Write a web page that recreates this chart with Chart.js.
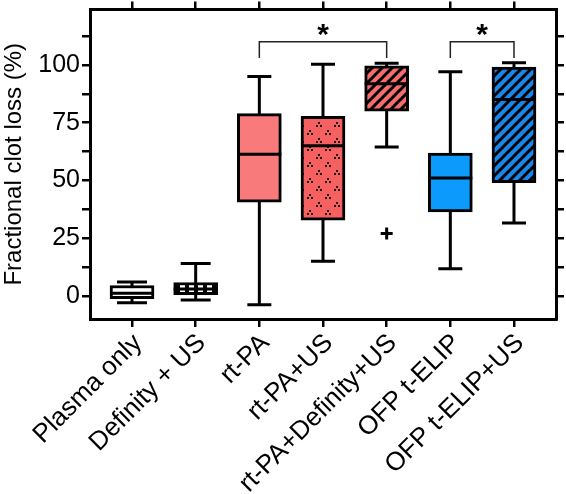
<!DOCTYPE html>
<html>
<head>
<meta charset="utf-8">
<script src="https://cdn.jsdelivr.net/npm/chart.js@4.4.0/dist/chart.umd.min.js"></script>
<style>
  body { margin: 0; background: #fff; }
  #wrap { width: 566px; height: 494px; }
</style>
</head>
<body>
<div id="wrap"><canvas id="clotChart"></canvas></div>
<script>
'use strict';

// ********** data **********
const groups = ['Plasma only', 'Definity + US', 'rt-PA', 'rt-PA+US', 'rt-PA+Definity+US', 'OFP t-ELIP', 'OFP t-ELIP+US'];
const whiskerLow   = [-3, -1.8, -3.8, 15, 64.5, 11.8, 31.6];
const quartileLow  = [-1.2, 0.5, 40.6, 32.8, 80, 36.4, 49];
const medians      = [1.2, 3, 61.3, 65, 91.8, 51, 85];
const quartileHigh = [4.5, 5.8, 78.9, 77.8, 99.6, 61.8, 99.1];
const whiskerHigh  = [6, 14, 95, 100.3, 100.7, 97, 100.9];
const outliers = [{x: 4, y: 27}];
const significant = [[2, 4], [5, 6]];
const yLabelTicks = [0, 25, 50, 75, 100];

const FONT = "'Liberation Sans', Arial, Helvetica, sans-serif";

// ********** fill patterns **********
function makeTile(w, h, draw) {
  const c = document.createElement('canvas');
  c.width = w; c.height = h;
  draw(c.getContext('2d'));
  return c.getContext('2d').createPattern(c, 'repeat');
}

function hatch(base) {
  return makeTile(10, 10, g => {
    g.fillStyle = base;
    g.fillRect(0, 0, 10, 10);
    g.strokeStyle = '#000';
    g.lineWidth = 3;
    g.beginPath();
    g.moveTo(-5, 15); g.lineTo(15, -5);
    g.moveTo(-5, 5); g.lineTo(5, -5);
    g.moveTo(5, 15); g.lineTo(15, 5);
    g.stroke();
  });
}

function carets(base) {
  return makeTile(18, 16, g => {
    g.fillStyle = base;
    g.fillRect(0, 0, 18, 16);
    g.fillStyle = '#1a0404';
    [[4, 4], [13, 12]].forEach(([cx, cy]) => {
      g.fillRect(cx - 1, cy - 2, 2, 2);
      g.fillRect(cx - 3, cy + 1, 2, 2);
      g.fillRect(cx + 1, cy + 1, 2, 2);
    });
  });
}

function dashes() {
  return makeTile(9, 4, g => {
    g.fillStyle = '#fff';
    g.fillRect(0, 0, 9, 4);
    g.fillStyle = '#000';
    g.fillRect(5, 0, 4, 4);
  });
}

const boxFills = [
  '#ffffff',
  dashes(),
  '#f87a7a',
  carets('#f76060'),
  hatch('#f56c6c'),
  '#0c9bfc',
  hatch('#1a86ea')
];

// ********** whiskers, medians, brackets **********
const boxParts = {
  id: 'boxParts',
  beforeDatasetsDraw(chart) {
    const {ctx, scales: {x, y}} = chart;
    ctx.save();
    ctx.strokeStyle = '#000';
    ctx.lineWidth = 3;
    groups.forEach((g, i) => {
      const px = x.getPixelForValue(i);
      ctx.beginPath();
      ctx.moveTo(px, y.getPixelForValue(whiskerLow[i]));
      ctx.lineTo(px, y.getPixelForValue(whiskerHigh[i]));
      ctx.stroke();
    });
    ctx.restore();
  },
  afterDatasetsDraw(chart) {
    const {ctx, scales: {x, y}} = chart;
    const bars = chart.getDatasetMeta(0).data;
    ctx.save();
    ctx.strokeStyle = '#000';
    ctx.lineWidth = 3;
    groups.forEach((g, i) => {
      const px = x.getPixelForValue(i);
      const half = bars[i].width / 2;
      const cap = i < 2 ? 15 : 12;
      ctx.beginPath();
      [whiskerLow[i], whiskerHigh[i]].forEach(v => {
        const py = y.getPixelForValue(v);
        ctx.moveTo(px - cap, py);
        ctx.lineTo(px + cap, py);
      });
      const pm = y.getPixelForValue(medians[i]);
      ctx.moveTo(px - half, pm);
      ctx.lineTo(px + half, pm);
      ctx.stroke();
    });

    // significance brackets
    ctx.lineWidth = 1.5;
    ctx.strokeStyle = '#222';
    ctx.fillStyle = '#000';
    ctx.font = 'bold 30px ' + FONT;
    ctx.textAlign = 'center';
    ctx.textBaseline = 'alphabetic';
    significant.forEach(([a, b]) => {
      const xa = x.getPixelForValue(a);
      const xb = x.getPixelForValue(b);
      const top = y.getPixelForValue(110);
      const leg = y.getPixelForValue(103);
      ctx.beginPath();
      ctx.moveTo(xa, leg);
      ctx.lineTo(xa, top);
      ctx.lineTo(xb, top);
      ctx.lineTo(xb, leg);
      ctx.stroke();
      ctx.fillText('*', (xa + xb) / 2, top + 2);
    });
    ctx.restore();
  }
};

// ********** chart **********
const xMin = -0.66, xMax = 6.66;
const yMin = -10, yMax = 124;
const frame = {color: '#000', width: 3};
const tickMarks = {drawOnChartArea: false, color: '#000', lineWidth: 2.5, tickLength: 8, offset: false};

function fixSize(prop, size) {
  return s => {
    s[prop] = size;
    s.paddingTop = s.paddingBottom = s.paddingLeft = s.paddingRight = 0;
  };
}

new Chart(document.getElementById('clotChart'), {
  type: 'bar',
  data: {
    datasets: [{
      data: groups.map((g, i) => ({x: i, y: [quartileLow[i], quartileHigh[i]]})),
      backgroundColor: boxFills,
      borderColor: '#000',
      borderWidth: 3,
      borderSkipped: false,
      barThickness: 44
    }, {
      type: 'scatter',
      data: outliers,
      pointStyle: 'cross',
      radius: 6,
      borderWidth: 3,
      borderColor: '#000'
    }]
  },
  options: {
    animation: false,
    responsive: true,
    maintainAspectRatio: false,
    layout: {padding: 0},
    plugins: {
      legend: {display: false},
      tooltip: {enabled: false}
    },
    scales: {
      x: {
        type: 'linear',
        position: 'bottom',
        min: xMin,
        max: xMax,
        offset: false,
        grid: tickMarks,
        border: frame,
        ticks: {
          stepSize: 1,
          includeBounds: false,
          autoSkip: false,
          minRotation: 45,
          maxRotation: 45,
          padding: 1,
          labelOffset: 6,
          color: '#000',
          font: {family: FONT, size: 26},
          callback: v => groups[v]
        },
        afterFit: fixSize('height', 175)
      },
      xTop: {
        type: 'linear',
        position: 'top',
        min: xMin,
        max: xMax,
        offset: false,
        grid: tickMarks,
        border: frame,
        ticks: {stepSize: 1, includeBounds: false, display: false},
        afterFit: fixSize('height', 9.5)
      },
      y: {
        type: 'linear',
        min: yMin,
        max: yMax,
        grid: tickMarks,
        border: frame,
        ticks: {
          stepSize: 12.5,
          includeBounds: false,
          padding: 2,
          color: '#000',
          font: {family: FONT, size: 25},
          callback: v => yLabelTicks.includes(v) ? v : ''
        },
        title: {
          display: true,
          text: 'Fractional clot loss (%)',
          color: '#000',
          font: {family: FONT, size: 24},
          padding: 0
        },
        afterFit: fixSize('width', 90)
      },
      yRight: {
        type: 'linear',
        position: 'right',
        min: yMin,
        max: yMax,
        grid: tickMarks,
        border: frame,
        ticks: {stepSize: 12.5, includeBounds: false, display: false},
        afterFit: fixSize('width', 10)
      }
    }
  },
  plugins: [boxParts]
});
</script>
</body>
</html>
